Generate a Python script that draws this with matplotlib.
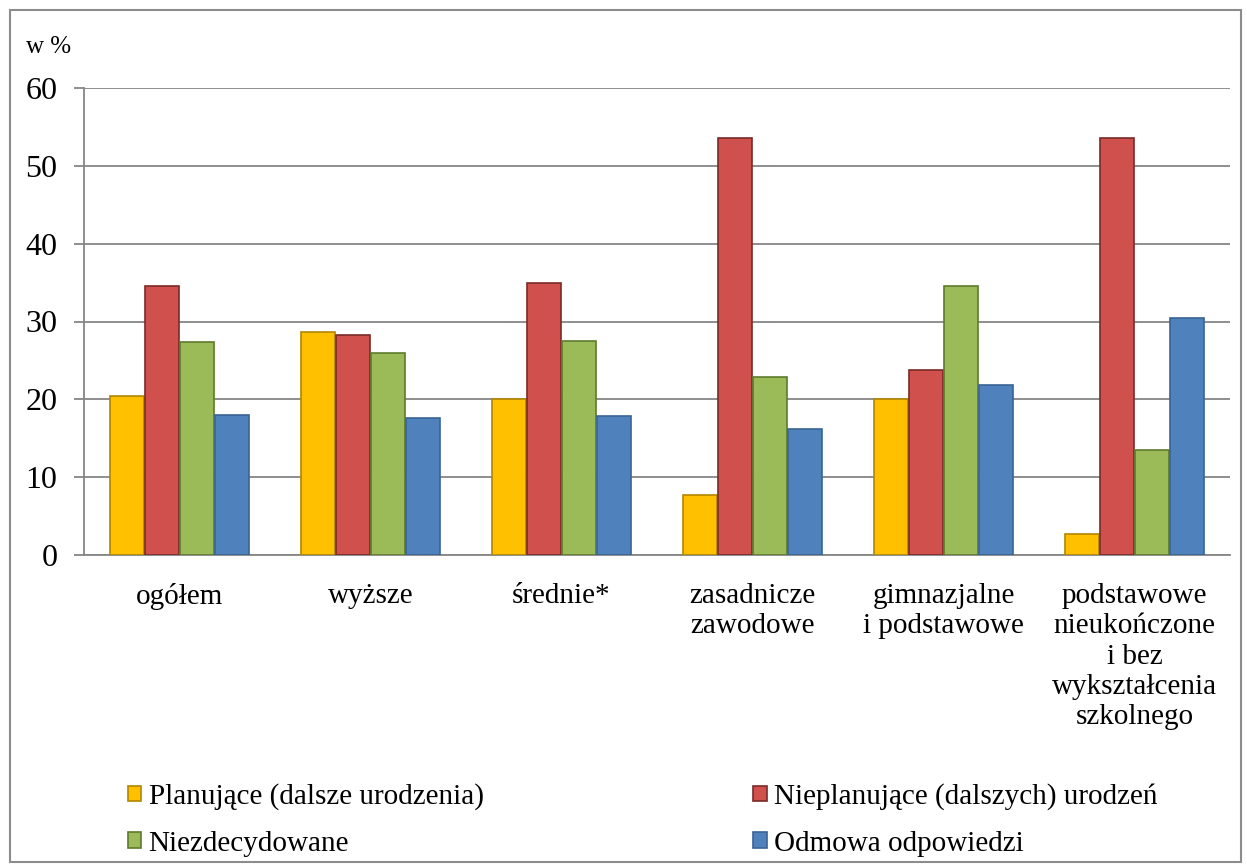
import numpy as np
import matplotlib.pyplot as plt
from matplotlib.patches import Rectangle

categories = ['ogółem', 'wyższe', 'średnie*', 'zasadnicze\nzawodowe',
              'gimnazjalne\ni podstawowe',
              'podstawowe\nnieukończone\ni bez\nwykształcenia\nszkolnego']
series_names = ['Planujące (dalsze urodzenia)', 'Nieplanujące (dalszych) urodzeń',
                'Niezdecydowane', 'Odmowa odpowiedzi']
planujace = [20.4, 28.7, 20.1, 7.7, 20.1, 2.7]
nieplanujace = [34.6, 28.3, 35.0, 53.6, 23.8, 53.6]
niezdecydowane = [27.4, 26.0, 27.5, 22.9, 34.6, 13.5]
odmowa = [18.0, 17.6, 17.9, 16.2, 21.8, 30.5]
y_ticks = [0, 10, 20, 30, 40, 50, 60]

colors = ['#FFC000', '#D0504D', '#9BBB59', '#4F81BD']
edges = ['#B38600', '#7A2A28', '#5E7A2E', '#3A6494']

plt.rcParams['font.family'] = ['Liberation Serif', 'DejaVu Serif']

fig = plt.figure(figsize=(12.47, 8.65), dpi=100)
fig.patches.append(Rectangle((0.008, 0.003), 0.987, 0.985, transform=fig.transFigure,
                             fill=False, edgecolor='#8c8c8c', linewidth=1.5))
ax = fig.add_axes([84 / 1247, 1 - 555 / 865, 1146 / 1247, 467 / 865])

x = np.arange(len(categories))
width = 0.183
data = [planujace, nieplanujace, niezdecydowane, odmowa]
for i, vals in enumerate(data):
    ax.bar(x + (i - 1.5) * width, vals, width * 0.97, color=colors[i],
           edgecolor=edges[i], linewidth=1.2, label=series_names[i], zorder=3)

ax.set_xlim(-0.5, len(categories) - 0.5)
ax.set_ylim(0, 60)
ax.set_yticks(y_ticks)
ax.yaxis.grid(True, color='#868686', linewidth=1.3, zorder=0)
ax.tick_params(axis='y', labelsize=23, length=7, color='#868686', width=1.3, pad=12)
ax.tick_params(axis='x', labelsize=21, length=0, pad=20)
ax.set_xticks(x)
ax.set_xticklabels(categories, linespacing=1.22)
for s in ['top', 'right']:
    ax.spines[s].set_visible(False)
for s in ['left', 'bottom']:
    ax.spines[s].set_color('#868686')
    ax.spines[s].set_linewidth(1.3)

fig.text(26 / 1247, 1 - 47 / 865, 'w %', fontsize=18, va='center')

handles, labels = ax.get_legend_handles_labels()
order = [0, 2, 1, 3]
leg = fig.legend([handles[i] for i in order], [labels[i] for i in order], ncol=2,
                 loc='center left', bbox_to_anchor=(102 / 1247, 1 - 820 / 865),
                 frameon=False, fontsize=21, handlelength=0.45, handleheight=0.45,
                 handletextpad=0.25, columnspacing=9.25, labelspacing=0.7)

fig.savefig('out.png', dpi=100)
